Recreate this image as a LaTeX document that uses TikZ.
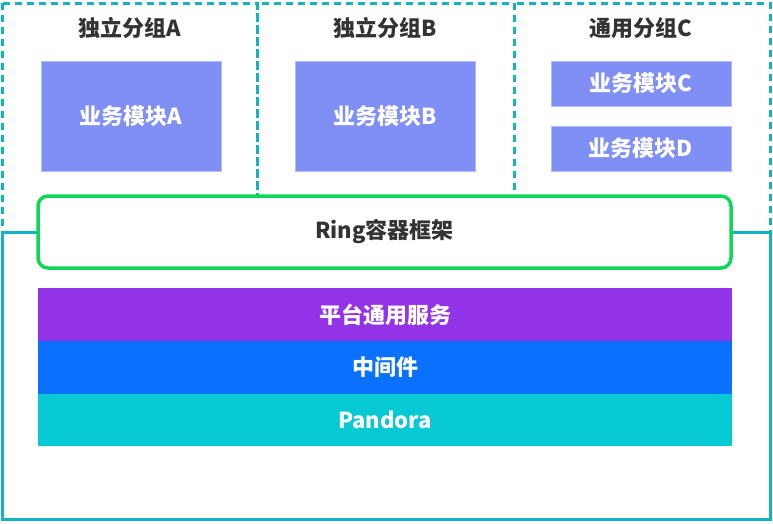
\documentclass[tikz,border=0pt]{standalone}
\usepackage{fontspec}
\setmainfont{Noto Sans CJK SC}
\usetikzlibrary{positioning}

\definecolor{framecol}{HTML}{12B3C4}
\definecolor{modcol}{HTML}{7F8FF6}
\definecolor{ringcol}{HTML}{0FD65A}
\definecolor{platcol}{HTML}{9333E8}
\definecolor{midcol}{HTML}{0A70FF}
\definecolor{pandcol}{HTML}{06C9D3}
\definecolor{titlecol}{HTML}{333333}

\begin{document}
\begin{tikzpicture}[x=1pt, y=-1pt,
  grp/.style={draw=framecol, line width=3pt, dash pattern=on 7pt off 5pt},
  grptitle/.style={text=titlecol, font=\fontsize{22}{26}\selectfont\bfseries},
  modbox/.style={fill=modcol, draw=modcol!60!white, line width=0.6pt, text=white,
    font=\fontsize{22}{26}\selectfont\bfseries, minimum width=180pt, inner sep=0pt},
  layer/.style={text=white, font=\fontsize{22}{26}\selectfont\bfseries,
    minimum width=694pt, minimum height=53pt, inner sep=0pt, outer sep=0pt}]
  \useasboundingbox (0,0) rectangle (773,523);

  % Groups (dashed)
  \draw[grp] (2,3) rectangle (257,232);
  \draw[grp] (257,3) rectangle (514,232);
  \draw[grp] (514,3) rectangle (770,232);
  \node[grptitle] (titleA) at (130,28) {独立分组A};
  \node[grptitle] (titleB) at (385,28) {独立分组B};
  \node[grptitle] (titleC) at (641,28) {通用分组C};

  % Business modules
  \node[modbox, minimum height=110pt] (modA) at (131,116) {业务模块A};
  \node[modbox, minimum height=110pt] (modB) at (385,116) {业务模块B};
  \node[modbox, minimum height=45pt] (modC) at (641,83.5) {业务模块C};
  \node[modbox, minimum height=45pt] (modD) at (641,148.5) {业务模块D};

  % Base frame
  \draw[framecol, line width=3pt] (2,232) rectangle (770,519);

  % Ring container
  \node[fill=white, draw=ringcol, line width=3.5pt, rounded corners=10pt,
    minimum width=693pt, minimum height=72pt, text=titlecol,
    font=\fontsize{22}{26}\selectfont\bfseries] (ring) at (384.5,232) {Ring容器框架};

  % Layers
  \node[layer, fill=platcol] (plat) at (385,314.5) {平台通用服务};
  \node[layer, fill=midcol, below=0pt of plat] (mid) {中间件};
  \node[layer, fill=pandcol, below=0pt of mid, minimum height=52pt] (pand) {Pandora};
\end{tikzpicture}
\end{document}
